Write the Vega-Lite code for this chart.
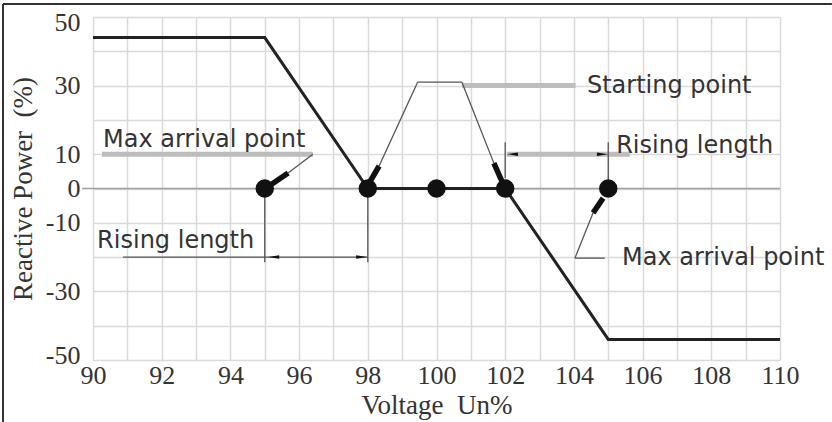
{
  "$schema": "https://vega.github.io/schema/vega-lite/v6.json",
  "width": 687,
  "height": 343,
  "autosize": {"type": "none"},
  "padding": {"left": 93, "top": 17, "right": 52, "bottom": 62},
  "background": "white",
  "config": {
    "view": {"stroke": null},
    "axis": {
      "domain": false,
      "ticks": false,
      "grid": true,
      "gridColor": "#dadada",
      "gridWidth": 1.5,
      "labelFont": "Liberation Serif",
      "labelFontSize": 26,
      "labelColor": "#333333",
      "titleFont": "Liberation Serif",
      "titleFontSize": 27,
      "titleFontWeight": "normal",
      "titleColor": "#333333"
    }
  },
  "datasets": {
    "curve": [
      {"x": 90, "y": 44}, {"x": 95, "y": 44}, {"x": 98, "y": 0},
      {"x": 102, "y": 0}, {"x": 105, "y": -44}, {"x": 110, "y": -44}
    ],
    "dots": [
      {"x": 95, "y": 0}, {"x": 98, "y": 0}, {"x": 100, "y": 0},
      {"x": 102, "y": 0}, {"x": 105, "y": 0}
    ],
    "frame": [
      {"x": 87.38, "y": 53.79, "x2": 111.51, "y2": 53.79},
      {"x": 87.38, "y": 53.79, "x2": 87.38, "y2": -68.08}
    ],
    "zero": [
      {"x": 89.68, "y": 0, "x2": 110, "y2": 0}
    ],
    "thin": [
      {"x": 96.4, "y": 10, "x2": 95.68, "y2": 4.52},
      {"x": 99.45, "y": 31, "x2": 100.74, "y2": 31},
      {"x": 99.45, "y": 31, "x2": 98.33, "y2": 6.56},
      {"x": 100.74, "y": 31, "x2": 101.67, "y2": 7.4},
      {"x": 104.03, "y": -20.3, "x2": 104.56, "y2": -7.1},
      {"x": 104.03, "y": -20.3, "x2": 104.9, "y2": -20.3},
      {"x": 90.87, "y": -20, "x2": 98, "y2": -20},
      {"x": 95, "y": 0, "x2": 95, "y2": -21.5},
      {"x": 98, "y": 0, "x2": 98, "y2": -21.5},
      {"x": 102, "y": 13.5, "x2": 102, "y2": 3},
      {"x": 105, "y": 13.5, "x2": 105, "y2": 0}
    ],
    "band": [
      {"x": 90.26, "y": 10, "x2": 96.4, "y2": 10},
      {"x": 100.74, "y": 30, "x2": 104.05, "y2": 30},
      {"x": 102.05, "y": 10, "x2": 105.63, "y2": 10}
    ],
    "pointers": [
      {"x": 95.68, "y": 4.52, "x2": 95.21, "y2": 1.31},
      {"x": 98.33, "y": 6.56, "x2": 98.06, "y2": 1.9},
      {"x": 101.67, "y": 7.4, "x2": 101.9, "y2": 2.2},
      {"x": 104.56, "y": -7.1, "x2": 104.85, "y2": -2.8}
    ],
    "tipsLeft": [
      {"x": 95.1, "y": -20}, {"x": 102.05, "y": 10}
    ],
    "tipsRight": [
      {"x": 97.98, "y": -20}, {"x": 104.99, "y": 10}
    ],
    "notes": [
      {"x": 90.29, "y": 12.1, "text": "Max arrival point"},
      {"x": 104.38, "y": 27.8, "text": "Starting point"},
      {"x": 105.23, "y": 10.35, "text": "Rising length"},
      {"x": 90.12, "y": -17.35, "text": "Rising length"},
      {"x": 105.4, "y": -22.3, "text": "Max arrival point"}
    ]
  },
  "encoding": {
    "x": {
      "field": "x",
      "type": "quantitative",
      "scale": {"domain": [90, 110], "nice": false, "zero": false},
      "axis": {
        "title": "Voltage \u00a0Un%",
        "values": [90, 91, 92, 93, 94, 95, 96, 97, 98, 99, 100, 101, 102, 103, 104, 105, 106, 107, 108, 109, 110],
        "labelExpr": "datum.value % 2 === 0 ? datum.label : ''",
        "labelFlush": false,
        "labelPadding": 2,
        "titlePadding": 4
      }
    },
    "y": {
      "field": "y",
      "type": "quantitative",
      "scale": {"domain": [-50, 50], "nice": false, "zero": false},
      "axis": {
        "title": "Reactive Power \u00a0(%)",
        "values": [-50, -40, -30, -20, -10, 0, 10, 20, 30, 40, 50],
        "labelExpr": "indexof([50, 30, 10, 0, -10, -30, -50], datum.value) >= 0 ? toString(datum.value) : ''",
        "labelFlush": false,
        "labelOffset": {"condition": [{"test": "datum.value === 50", "value": 5}, {"test": "datum.value === -50", "value": -5}], "value": 0},
        "labelPadding": 13,
        "titlePadding": 8
      }
    }
  },
  "layer": [
    {
      "data": {"name": "frame"},
      "mark": {"type": "rule", "color": "#333333", "strokeWidth": 2},
      "encoding": {"x2": {"field": "x2"}, "y2": {"field": "y2"}}
    },
    {
      "data": {"name": "zero"},
      "mark": {"type": "rule", "color": "#a0a0a0", "strokeWidth": 1.5},
      "encoding": {"x2": {"field": "x2"}, "y2": {"field": "y2"}}
    },
    {
      "data": {"name": "band"},
      "mark": {"type": "rule", "color": "#bdbdbd", "strokeWidth": 5},
      "encoding": {"x2": {"field": "x2"}, "y2": {"field": "y2"}}
    },
    {
      "data": {"name": "thin"},
      "mark": {"type": "rule", "color": "#555555", "strokeWidth": 1.3},
      "encoding": {"x2": {"field": "x2"}, "y2": {"field": "y2"}}
    },
    {
      "data": {"name": "curve"},
      "mark": {"type": "line", "color": "#222222", "strokeWidth": 3}
    },
    {
      "data": {"name": "pointers"},
      "mark": {"type": "rule", "color": "#111111", "strokeWidth": 5.5},
      "encoding": {"x2": {"field": "x2"}, "y2": {"field": "y2"}}
    },
    {
      "data": {"name": "tipsLeft"},
      "mark": {"type": "point", "filled": true, "color": "#111111", "opacity": 1, "shape": "M0,0L2,-0.32L2,0.32Z", "size": 121}
    },
    {
      "data": {"name": "tipsRight"},
      "mark": {"type": "point", "filled": true, "color": "#111111", "opacity": 1, "shape": "M0,0L-2,-0.32L-2,0.32Z", "size": 121}
    },
    {
      "data": {"name": "dots"},
      "mark": {"type": "point", "filled": true, "color": "#111111", "opacity": 1, "shape": "circle", "size": 340}
    },
    {
      "data": {"name": "notes"},
      "mark": {"type": "text", "align": "left", "baseline": "alphabetic", "font": "DejaVu Sans", "fontSize": 24, "color": "#333333"},
      "encoding": {"text": {"field": "text"}}
    }
  ]
}
